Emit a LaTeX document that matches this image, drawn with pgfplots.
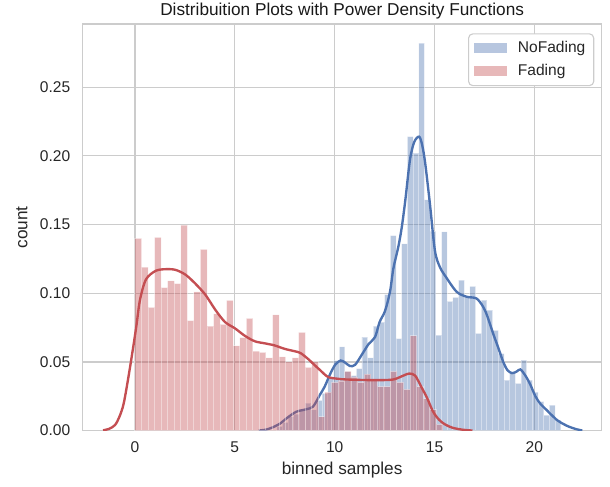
\documentclass[border=0pt]{standalone}
\usepackage{fontspec}
\setmainfont{Liberation Sans}
\usepackage{pgfplots}
\pgfplotsset{compat=1.18}
\definecolor{sbblue}{RGB}{76,114,176}
\definecolor{sbred}{RGB}{196,78,82}
\pgfplotsset{hist legend/.style={legend image code/.code={\fill[##1,draw=none,sharp corners] (0pt,-3.6pt) rectangle (23.5pt,3.6pt);}}}

\begin{document}
\begin{tikzpicture}
\begin{axis}[
  scale only axis, width=373.7pt, height=292.7pt,
  xmin=-2.62, xmax=23.37, ymin=0, ymax=0.296,
  xtick={0,5,10,15,20}, ytick={0,0.05,0.1,0.15,0.2,0.25},
  major tick length=0pt,
  /pgf/number format/assume math mode=true,
  yticklabel style={/pgf/number format/fixed, /pgf/number format/fixed zerofill, /pgf/number format/precision=2},
  tick label style={font=\fontsize{11.2}{13.4}\selectfont, text=black!85},
  x tick label style={yshift=-4.6pt},
  y tick label style={xshift=-5.4pt},
  grid=major, grid style={black!20, line width=0.9pt},
  axis line style={black!20, line width=1.1pt},
  title={Distribuition Plots with Power Density Functions},
  every axis title/.style={at={(0.5,1)}, anchor=base, yshift=6.3pt, font=\fontsize{12.4}{14.8}\selectfont, text=black!90},
  xlabel={binned samples}, ylabel={count},
  every axis x label/.style={at={([yshift=-28.4pt]axis description cs:0.5,0)}, anchor=center, font=\fontsize{12.4}{14.8}\selectfont, text=black!85},
  every axis y label/.style={at={([xshift=-43.7pt]axis description cs:0,0.5)}, anchor=center, rotate=90, font=\fontsize{12.4}{14.8}\selectfont, text=black!85},
  legend style={at={(0.9857,0.9771)}, anchor=north east, draw=black!20, line width=0.8pt, rounded corners=3pt, fill=white,
    font=\fontsize{11.2}{13.4}\selectfont, text=black!85, inner xsep=4pt, inner ysep=3.5pt, row sep=3pt,
    /tikz/every odd column/.append style={column sep=6pt}},
  legend cell align=left,
]
% NoFading histogram
\addplot[ybar interval, hist legend, fill=sbblue, fill opacity=0.4, draw=white, draw opacity=0.4, line width=0.7pt] coordinates {
(7.100,0.003) (7.385,0.006) (7.669,0.010) (7.954,0.012) (8.238,0.015)
(8.523,0.020) (8.807,0.015) (9.092,0.022) (9.376,0.027) (9.661,0.038)
(9.945,0.051) (10.230,0.061) (10.514,0.043) (10.799,0.040) (11.083,0.045)
(11.368,0.068) (11.652,0.053) (11.937,0.076) (12.221,0.079) (12.506,0.099)
(12.790,0.142) (13.075,0.067) (13.359,0.136) (13.644,0.214) (13.928,0.202)
(14.213,0.282) (14.497,0.168) (14.782,0.145) (15.066,0.0695) (15.351,0.1447)
(15.635,0.094) (15.920,0.097) (16.204,0.1095) (16.489,0.097) (16.773,0.105)
(17.058,0.0707) (17.342,0.095) (17.627,0.0877) (17.911,0.073) (18.196,0.056)
(18.480,0.0367) (18.765,0.0416) (19.049,0.0343) (19.334,0.0513) (19.618,0.0367)
(19.903,0.028) (20.187,0.021) (20.472,0.0113) (20.756,0.0186) (21.041,0.0076)
(21.325,0)
};
\addlegendentry{NoFading}
\addplot[sbblue, line width=1.7pt, smooth, tension=0.5, forget plot] coordinates {
(6.2,0) (6.6,0.0008) (7.0,0.003) (7.26,0.005) (7.6,0.009) (8.08,0.0137) (8.58,0.0155)
(8.92,0.0175) (9.26,0.026) (9.5,0.032) (9.77,0.041) (10.03,0.048) (10.3,0.051)
(10.52,0.0495) (10.76,0.047) (11.02,0.0478) (11.35,0.055) (11.7,0.063) (12.02,0.068)
(12.25,0.079) (12.52,0.087) (12.77,0.101) (12.94,0.118) (13.19,0.134) (13.36,0.148)
(13.54,0.168) (13.77,0.197) (13.98,0.210) (14.23,0.214) (14.38,0.208) (14.53,0.195)
(14.77,0.165) (15.02,0.131) (15.27,0.119) (15.61,0.111) (16.11,0.101) (16.61,0.0974)
(17.1,0.0962) (17.44,0.090) (17.65,0.083) (17.95,0.070) (18.2,0.060) (18.44,0.050)
(18.65,0.044) (18.88,0.0418) (19.12,0.043) (19.3,0.0445) (19.55,0.040) (19.78,0.034)
(20.05,0.025) (20.3,0.0195) (20.61,0.015) (20.8,0.0122) (21.12,0.0078) (21.3,0.006)
(21.7,0.003) (22.1,0.001) (22.4,0)
};
% Fading histogram
\addplot[ybar interval, hist legend, fill=sbred, fill opacity=0.4, draw=white, draw opacity=0.4, line width=0.7pt] coordinates {
(0.000,0.140) (0.328,0.119) (0.656,0.0897) (0.984,0.1406) (1.312,0.104)
(1.640,0.109) (1.968,0.107) (2.296,0.1496) (2.624,0.080) (2.952,0.101)
(3.280,0.132) (3.608,0.076) (3.936,0.085) (4.264,0.0773) (4.592,0.0948)
(4.920,0.0617) (5.248,0.0676) (5.576,0.0817) (5.904,0.0579) (6.232,0.0569)
(6.560,0.053) (6.888,0.0843) (7.216,0.0537) (7.544,0.050) (7.872,0.053)
(8.200,0.0715) (8.528,0.046) (8.856,0.050) (9.184,0.010) (9.512,0.028)
(9.840,0.035) (10.168,0.036) (10.496,0.043) (10.824,0.039) (11.152,0.035)
(11.480,0.041) (11.808,0.037) (12.136,0.032) (12.464,0.032) (12.792,0.043)
(13.120,0.035) (13.448,0.030) (13.776,0.069) (14.104,0.032) (14.432,0.023)
(14.760,0.015) (15.088,0.0045) (15.416,0)
};
\addlegendentry{Fading}
\addplot[sbred, line width=1.7pt, smooth, tension=0.5, forget plot] coordinates {
(-1.6,0.0002) (-1.3,0.0012) (-1.0,0.004) (-0.78,0.010) (-0.56,0.020) (-0.27,0.044)
(0.05,0.074) (0.25,0.095) (0.55,0.110) (1.04,0.1163) (1.54,0.1175) (2.03,0.117)
(2.53,0.1135) (3.02,0.107) (3.52,0.099) (4.02,0.088) (4.51,0.079) (5.01,0.0744)
(5.5,0.069) (6.0,0.065) (6.5,0.0635) (6.99,0.062) (7.49,0.0595) (7.98,0.0578)
(8.28,0.0565) (8.68,0.052) (8.97,0.048) (9.27,0.044) (9.67,0.039) (10.16,0.0377)
(10.56,0.0372) (11.45,0.0368) (12.25,0.0367) (12.94,0.0372) (13.44,0.040)
(13.73,0.0415) (14.03,0.040) (14.33,0.032) (14.62,0.024) (14.92,0.014)
(15.22,0.008) (15.52,0.0045) (15.91,0.002) (16.41,0.0006) (16.9,0)
};
\end{axis}
\pgfresetboundingbox
\path ([shift={(-59.5pt,-40pt)}]current axis.south west) rectangle ([shift={(6pt,17.3pt)}]current axis.north east);
\end{tikzpicture}
\end{document}
